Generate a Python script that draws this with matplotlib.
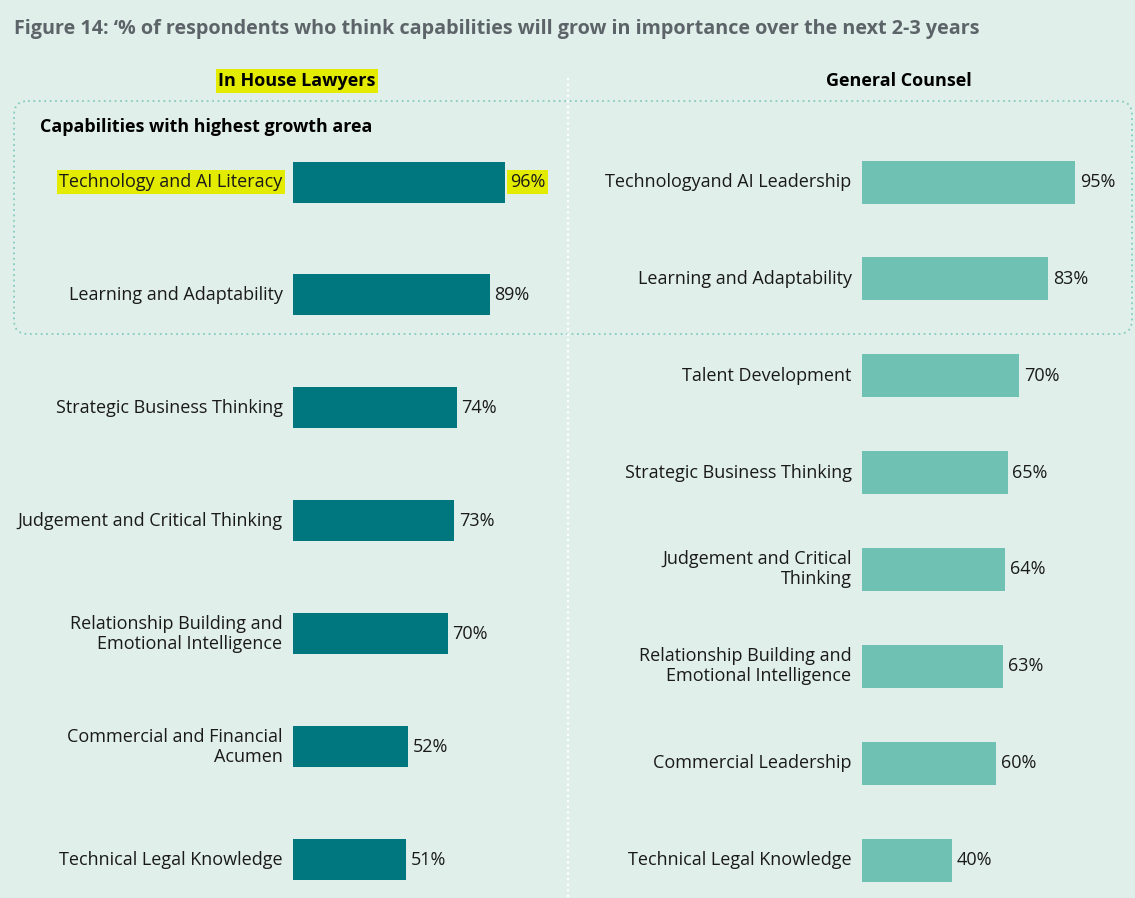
import matplotlib
matplotlib.use("Agg")
import matplotlib.pyplot as plt
from matplotlib.patches import FancyBboxPatch

plt.rcParams['font.family'] = ['Open Sans', 'DejaVu Sans']

# ---------------- data ----------------
title = "Figure 14: \u2018% of respondents who think capabilities will grow in importance over the next 2-3 years"
left_header = "In House Lawyers"
right_header = "General Counsel"
box_title = "Capabilities with highest growth area"

ihl_labels = ["Technology and AI Literacy", "Learning and Adaptability",
              "Strategic Business Thinking", "Judgement and Critical Thinking",
              "Relationship Building and\nEmotional Intelligence",
              "Commercial and Financial\nAcumen", "Technical Legal Knowledge"]
ihl_values = [96, 89, 74, 73, 70, 52, 51]

gc_labels = ["Technologyand AI Leadership", "Learning and Adaptability",
             "Talent Development", "Strategic Business Thinking",
             "Judgement and Critical\nThinking",
             "Relationship Building and\nEmotional Intelligence",
             "Commercial Leadership", "Technical Legal Knowledge"]
gc_values = [95, 83, 70, 65, 64, 63, 60, 40]

BG = "#E0EFE9"
DARK = "#00777F"
LIGHT = "#6FC2B3"
YELLOW = "#E3EC00"
W, H = 1135, 898

fig = plt.figure(figsize=(W / 100, H / 100), dpi=100, facecolor=BG)

def ax_rect(x0, x1, y0, y1):
    return [x0 / W, 1 - y1 / H, (x1 - x0) / W, (y1 - y0) / H]

# overlay axes in pixel coordinates
ov = fig.add_axes([0, 0, 1, 1], facecolor="none")
ov.set_xlim(0, W)
ov.set_ylim(H, 0)
ov.axis("off")

ov.text(14, 29, title, fontsize=14.25, fontweight="bold", color="#5D6469",
        ha="left", va="center")
ov.text(297, 81, left_header, fontsize=13, fontweight="bold", color="black",
        ha="center", va="center",
        bbox=dict(boxstyle="square,pad=0.15", fc=YELLOW, ec="none"))
ov.text(899, 81, right_header, fontsize=13, fontweight="bold", color="black",
        ha="center", va="center")
ov.text(40, 127, box_title, fontsize=12.9, fontweight="bold", color="black",
        ha="left", va="center")

box = FancyBboxPatch((14, 101), 1118, 233,
                     boxstyle="round,pad=0,rounding_size=14",
                     fc="none", ec="#86CCC0", lw=1.3, ls=(0, (1, 2)))
ov.add_patch(box)
ov.plot([568, 568], [78, 898], color="white", lw=1.6, ls=(0, (1, 1.5)))

def panel(x0, px_per_pct, first_c, last_c, n, labels, values, color, bar_px,
          highlight=None):
    spacing = (last_c - first_c) / (n - 1)
    top, bot = 110, 895
    x1 = x0 + 100 * px_per_pct
    ax = fig.add_axes(ax_rect(x0, x1, top, bot), facecolor="none")
    ax.set_xlim(0, 100)
    ax.set_ylim((bot - first_c) / spacing, (top - first_c) / spacing)
    ax.axis("off")
    pos = list(range(n))
    ax.barh(pos, values, height=bar_px / spacing, color=color, linewidth=0)
    for i, (lab, v) in enumerate(zip(labels, values)):
        bb = None
        if highlight is not None and i == highlight:
            bb = dict(boxstyle="square,pad=0.15", fc=YELLOW, ec="none")
        ax.annotate(lab, (0, i), xytext=(-7.5, 0), textcoords="offset points",
                    ha="right", va="center", fontsize=13, color="#1a1a1a",
                    linespacing=1.15, annotation_clip=False, bbox=bb)
        ax.annotate(f"{v}%", (v, i), xytext=(3.5, 0), textcoords="offset points",
                    ha="left", va="center", fontsize=13, color="#1a1a1a",
                    annotation_clip=False, bbox=bb)
    return ax

panel(293, 2.21, 182, 859.5, len(ihl_values), ihl_labels, ihl_values, DARK, 41,
      highlight=0)
panel(862, 2.24, 182, 860, len(gc_values), gc_labels, gc_values, LIGHT, 43)

fig.savefig("out.png", dpi=100, facecolor=BG)
